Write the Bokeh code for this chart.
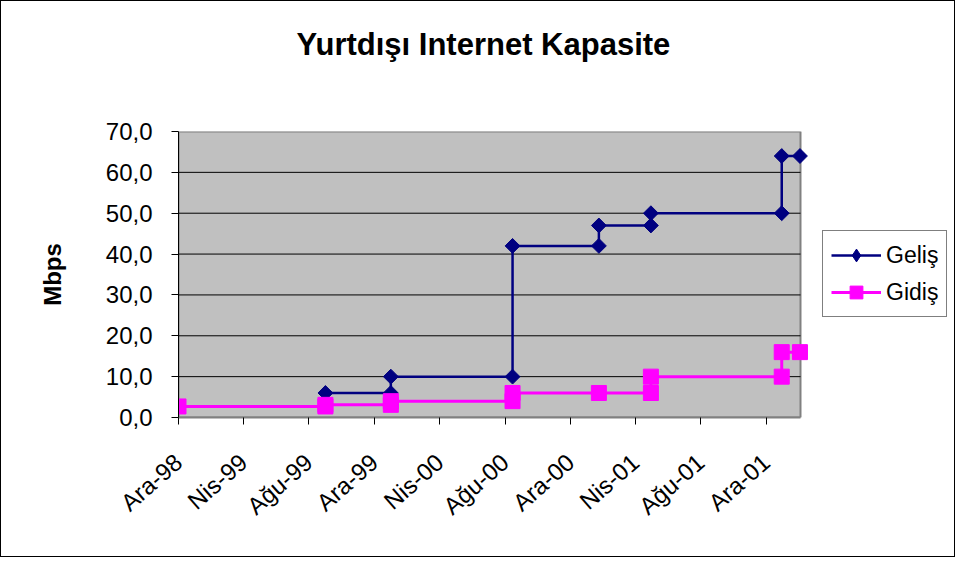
import pandas as pd
from math import pi
from bokeh.plotting import figure
from bokeh.models import FixedTicker, Legend, LegendItem, Range1d, Title
from bokeh.embed import file_html
from bokeh.resources import INLINE

title_text = "Yurtdışı Internet Kapasite"
y_axis_label = "Mbps"

gelis_label = "Geliş"
gelis_dates = ["1999-09-01", "2000-01-01", "2000-01-01", "2000-08-15", "2000-08-15",
               "2001-01-23", "2001-01-23", "2001-04-30", "2001-04-30",
               "2001-12-30", "2001-12-30", "2002-02-02"]
gelis_values = [6, 6, 10, 10, 42, 42, 47, 47, 50, 50, 64, 64]

gidis_label = "Gidiş"
gidis_dates = ["1998-12-01", "1999-09-01", "1999-09-01", "2000-01-01", "2000-01-01",
               "2000-08-15", "2000-08-15", "2001-01-23", "2001-04-30", "2001-04-30",
               "2001-12-30", "2001-12-30", "2002-02-02"]
gidis_values = [2.7, 2.7, 3.1, 3.1, 4.0, 4.0, 6, 6, 6, 10, 10, 16, 16]

x_tick_dates = ["1998-12-01", "1999-04-01", "1999-08-01", "1999-12-01", "2000-04-01",
                "2000-08-01", "2000-12-01", "2001-04-01", "2001-08-01", "2001-12-01"]
x_tick_labels = ["Ara-98", "Nis-99", "Ağu-99", "Ara-99", "Nis-00",
                 "Ağu-00", "Ara-00", "Nis-01", "Ağu-01", "Ara-01"]
x_axis_dates = ["1998-12-01", "2002-02-03"]   # extent of the plot area

y_ticks = [0, 10, 20, 30, 40, 50, 60, 70]
y_tick_labels = ["0,0", "10,0", "20,0", "30,0", "40,0", "50,0", "60,0", "70,0"]


def ms(d):
    return int(pd.Timestamp(d).value // 10**6)


FONT = "Liberation Sans"

# layout (pixels)
W, H = 955, 557
FRAME_LEFT, PLOT_RIGHT, FRAME_RIGHT = 177, 799, 951
FRAME_TOP, FRAME_BOTTOM = 130, 416

x0, x1 = ms(x_axis_dates[0]), ms(x_axis_dates[1])
# the frame extends to the right of the plot area, so that the legend fits inside it
x_frame_end = x0 + (x1 - x0) * (FRAME_RIGHT - FRAME_LEFT) / (PLOT_RIGHT - FRAME_LEFT)

p = figure(width=W, height=H, output_backend="svg", toolbar_location=None,
           x_range=Range1d(x0, x_frame_end),
           y_range=Range1d(y_ticks[0], y_ticks[-1]),
           min_border_left=FRAME_LEFT, min_border_right=W - FRAME_RIGHT,
           min_border_top=FRAME_TOP, min_border_bottom=H - FRAME_BOTTOM)

p.background_fill_color = "white"
p.border_fill_color = "white"
p.outline_line_color = None
p.styles = {"border": "1px solid black"}

# main title (outermost) and a spacer title between it and the frame
p.title.text = title_text
p.title.text_font = FONT
p.title.text_font_size = "31px"
p.title.text_font_style = "bold"
p.title.text_color = "black"
p.title.align = "left"
p.title.offset = 118
p.title.standoff = 0
spacer = Title(text=" ", text_font_size="1px", standoff=67)
p.add_layout(spacer, "above")

p.xgrid.grid_line_color = None
p.ygrid.grid_line_color = None

# plot area and its horizontal grid lines
p.quad(left=[x0], right=[x1], bottom=[y_ticks[0]], top=[y_ticks[-1]],
       fill_color="#C0C0C0", line_color="#808080", line_width=2)
inner = y_ticks[1:-1]
p.segment(x0=[x0] * len(inner), x1=[x1] * len(inner), y0=inner, y1=inner,
          line_color="black", line_width=1)

# x axis
xt = [ms(d) for d in x_tick_dates]
p.xaxis.bounds = (x0, x1)
p.xaxis.ticker = FixedTicker(ticks=xt)
p.xaxis.major_label_overrides = {t: lab for t, lab in zip(xt, x_tick_labels)}
p.xaxis.major_label_orientation = 0.72
p.xaxis.major_label_text_font = FONT
p.xaxis.major_label_text_font_size = "24px"
p.xaxis.major_label_text_color = "black"
p.xaxis.major_label_standoff = 34
p.xaxis.axis_line_color = "#808080"
p.xaxis.axis_line_width = 2
p.xaxis.major_tick_line_color = "black"
p.xaxis.major_tick_in = 0
p.xaxis.major_tick_out = 7
p.xaxis.minor_tick_line_color = None

# y axis
p.yaxis.ticker = FixedTicker(ticks=y_ticks)
p.yaxis.major_label_overrides = {t: lab for t, lab in zip(y_ticks, y_tick_labels)}
p.yaxis.major_label_text_font = FONT
p.yaxis.major_label_text_font_size = "24px"
p.yaxis.major_label_text_color = "black"
p.yaxis.major_label_standoff = 19
p.yaxis.axis_line_color = "black"
p.yaxis.axis_line_width = 1
p.yaxis.major_tick_line_color = "black"
p.yaxis.major_tick_in = 0
p.yaxis.major_tick_out = 7
p.yaxis.minor_tick_line_color = None
p.yaxis.axis_label = y_axis_label
p.yaxis.axis_label_text_font = FONT
p.yaxis.axis_label_text_font_size = "24px"
p.yaxis.axis_label_text_font_style = "bold"
p.yaxis.axis_label_text_color = "black"
p.yaxis.axis_label_standoff = 37

gx = [ms(d) for d in gelis_dates]
dx = [ms(d) for d in gidis_dates]

NAVY, MAGENTA = "#000080", "#FF00FF"

gl = p.line(gx, gelis_values, line_color=NAVY, line_width=2.5)
# diamonds drawn as squares turned by 45 degrees (equal width and height)
gm = p.scatter(gx, gelis_values, marker="square", size=10.5, angle=pi / 4,
               fill_color=NAVY, line_color=NAVY)
dl = p.line(dx, gidis_values, line_color=MAGENTA, line_width=3)
dm = p.scatter(dx, gidis_values, marker="square", size=15,
               fill_color=MAGENTA, line_color=MAGENTA)

# hidden copy of the Geliş points with the diamond symbol, used only for the legend key
gm_key = p.scatter(gx, gelis_values, marker="diamond", fill_color=NAVY,
                   line_color=NAVY, visible=False)

legend = Legend(items=[LegendItem(label=gelis_label, renderers=[gl, gm_key]),
                       LegendItem(label=gidis_label, renderers=[dl, dm])],
                location=(821 - FRAME_LEFT, FRAME_BOTTOM - 316))
legend.label_text_font = FONT
legend.label_text_font_size = "23px"
legend.label_text_color = "black"
legend.glyph_width = 50
legend.glyph_height = 32
legend.label_height = 32
legend.spacing = 5
legend.padding = 8
legend.margin = 0
legend.label_standoff = 5
legend.border_line_color = "black"
legend.border_line_width = 1
legend.background_fill_color = "white"
legend.background_fill_alpha = 1
legend.inactive_fill_alpha = 0
p.add_layout(legend, "center")

open("out.html", "w").write(file_html(p, INLINE))
